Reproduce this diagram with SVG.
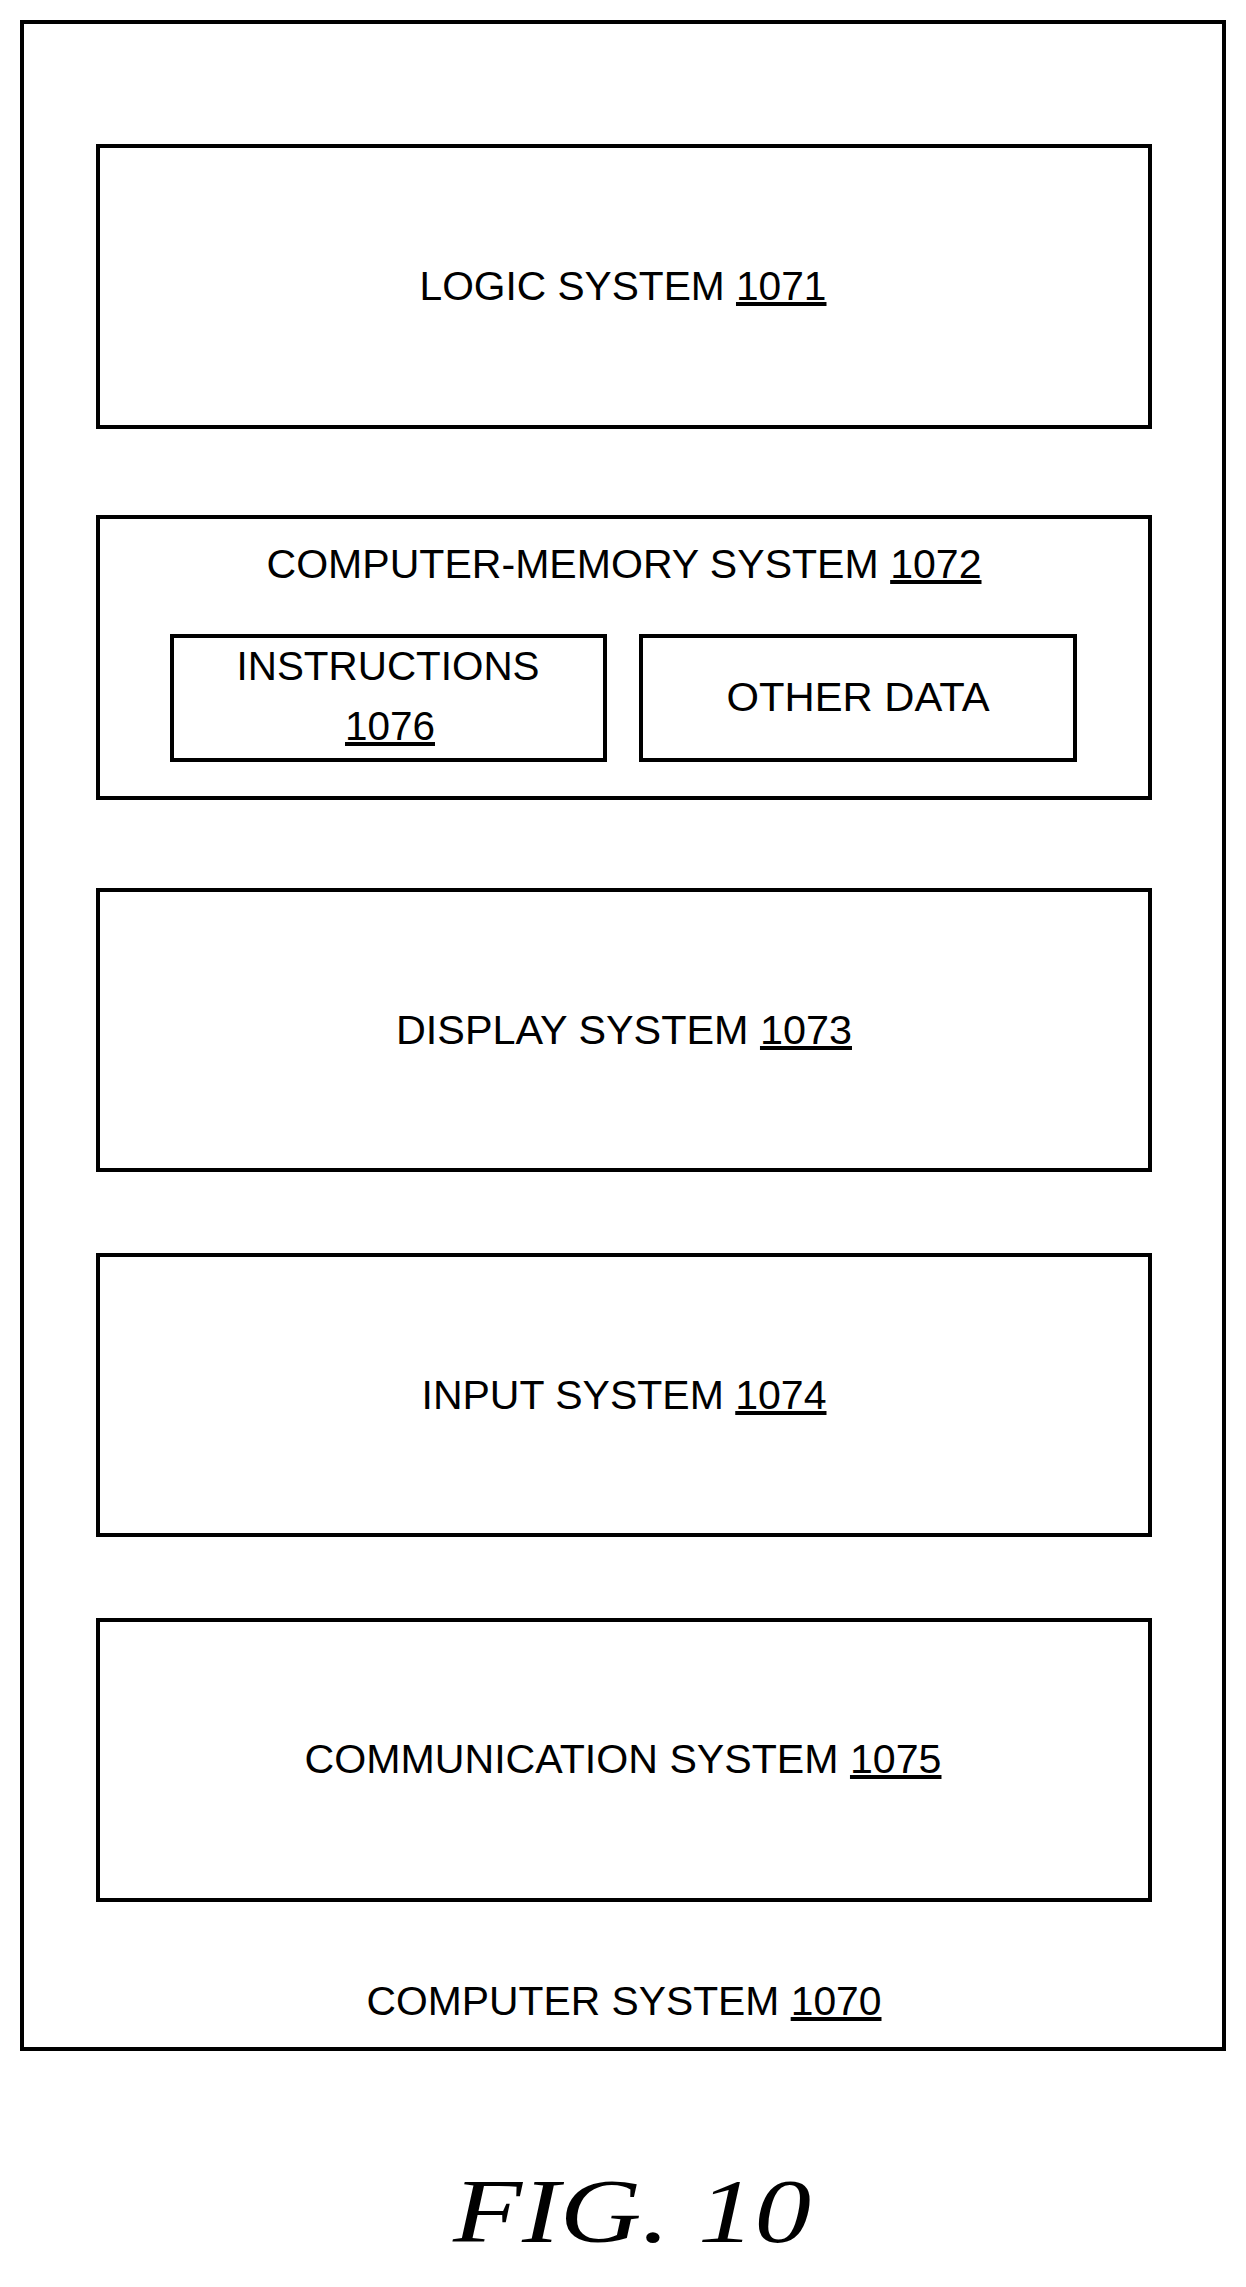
<svg xmlns="http://www.w3.org/2000/svg" width="1246" height="2287" viewBox="0 0 1246 2287">
<style>
rect{fill:none;stroke:#000;stroke-width:4}
text{font-family:"Liberation Sans",Arial,sans-serif;font-size:40px;text-anchor:middle;fill:#000}
.u{text-decoration:underline}
.fig{font-family:"Liberation Serif","Times New Roman",serif;font-style:italic;font-size:92px}
</style>
<rect width="1246" height="2287" fill="#fff" style="fill:#fff;stroke:none"/>
<g id="computer"><rect x="22" y="22" width="1202" height="2027"/>
<text x="624" y="2015" textLength="515" lengthAdjust="spacingAndGlyphs">COMPUTER SYSTEM <tspan class="u">1070</tspan></text></g>
<g id="logic"><rect x="98" y="146" width="1052" height="281"/>
<text x="623" y="300" textLength="407" lengthAdjust="spacingAndGlyphs">LOGIC SYSTEM <tspan class="u">1071</tspan></text></g>
<g id="memory"><rect x="98" y="517" width="1052" height="281"/>
<text x="624" y="578" textLength="715" lengthAdjust="spacingAndGlyphs">COMPUTER-MEMORY SYSTEM <tspan class="u">1072</tspan></text></g>
<g id="instructions"><rect x="172" y="636" width="433" height="124"/>
<text x="388" y="680" textLength="303" lengthAdjust="spacingAndGlyphs">INSTRUCTIONS</text>
<text x="390" y="740" class="u" textLength="90" lengthAdjust="spacingAndGlyphs">1076</text></g>
<g id="otherdata"><rect x="641" y="636" width="434" height="124"/>
<text x="858" y="711" textLength="263" lengthAdjust="spacingAndGlyphs">OTHER DATA</text></g>
<g id="display"><rect x="98" y="890" width="1052" height="280"/>
<text x="624" y="1044" textLength="456" lengthAdjust="spacingAndGlyphs">DISPLAY SYSTEM <tspan class="u">1073</tspan></text></g>
<g id="input"><rect x="98" y="1255" width="1052" height="280"/>
<text x="624" y="1409" textLength="405" lengthAdjust="spacingAndGlyphs">INPUT SYSTEM <tspan class="u">1074</tspan></text></g>
<g id="comm"><rect x="98" y="1620" width="1052" height="280"/>
<text x="623" y="1773" textLength="637" lengthAdjust="spacingAndGlyphs">COMMUNICATION SYSTEM <tspan class="u">1075</tspan></text></g>
<g id="connectors"/>
<text class="fig" x="632" y="2242" textLength="358" lengthAdjust="spacingAndGlyphs">FIG. 10</text>
</svg>
